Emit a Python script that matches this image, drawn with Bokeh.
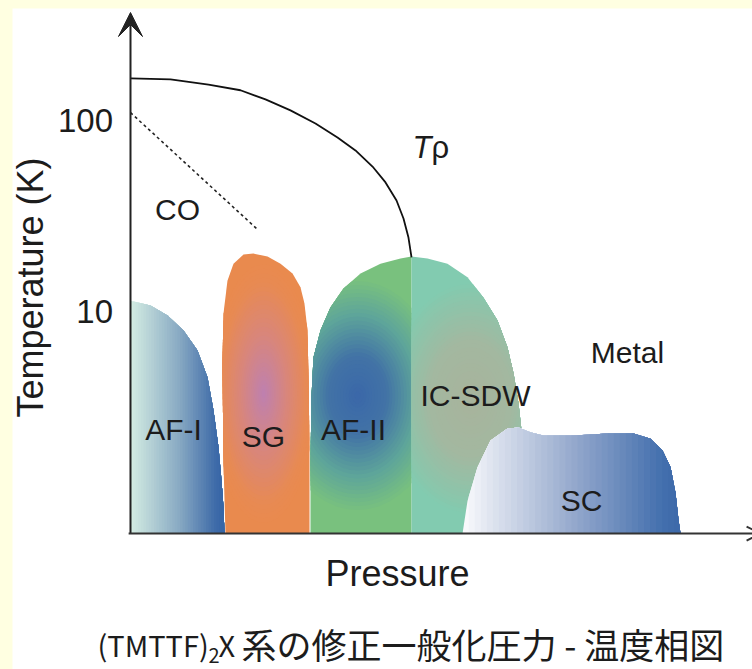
import math
from bokeh.plotting import figure
from bokeh.models import (Range1d, Arrow, VeeHead, OpenHead, Label, GlobalInlineStyleSheet)
from bokeh.core.properties import value
from bokeh.embed import file_html
from bokeh.resources import INLINE

# ---------------- data (pressure: arbitrary units, temperature: K) ----------------
T_FLOOR = 0.688   # temperature at the pressure axis
T_TOP = 367.6     # temperature at the tip of the temperature axis

# T_rho crossover line
trho_p = [0, 0.643, 1.254, 1.768, 2.170, 2.572, 2.974, 3.328, 3.617, 3.891, 4.100, 4.277, 4.389, 4.469, 4.518]
trho_T = [166, 164, 154, 144, 129, 113, 96.4, 81.5, 69.7, 57.4, 47.4, 38.1, 30.7, 24.4, 19.2]

# charge-order (dashed) line
co_p = [0, 2.058]
co_T = [110, 26.6]

# phase boundaries
afi_p = [0, 0, 0.322, 0.595, 0.852, 1.077, 1.238, 1.334, 1.415, 1.463, 1.495, 1.511]
afi_T = [T_FLOOR, 11.4, 10.75, 9.53, 7.95, 6.25, 4.51, 3.03, 1.94, 1.30, 0.94, T_FLOOR]

sg_p = [1.527, 1.495, 1.479, 1.495, 1.559, 1.656, 1.817, 1.977, 2.203, 2.412, 2.605, 2.733, 2.797, 2.846, 2.862, 2.878, 2.878]
sg_T = [T_FLOOR, 1.60, 5.34, 9.76, 14.5, 17.8, 19.9, 20.1, 19.4, 17.8, 15.8, 13.4, 11.0, 7.95, 4.35, 1.94, T_FLOOR]

afii_p = [2.894, 2.894, 2.910, 2.942, 3.055, 3.215, 3.424, 3.698, 4.019, 4.341, 4.518, 4.518]
afii_T = [T_FLOOR, 1.60, 3.55, 5.74, 7.95, 10.5, 13.2, 15.8, 17.8, 18.95, 19.4, T_FLOOR]

icsdw_p = [4.518, 4.518, 4.775, 5.096, 5.418, 5.675, 5.900, 6.061, 6.158, 6.238, 6.286, 6.302]
icsdw_T = [T_FLOOR, 19.4, 18.95, 17.8, 15.1, 11.8, 8.97, 6.48, 4.74, 3.30, 2.38, T_FLOOR]

sc_p = [5.338, 5.418, 5.579, 5.788, 6.061, 6.238, 6.431, 6.640, 7.122, 7.669, 8.087, 8.360, 8.553, 8.682, 8.762, 8.810, 8.842]
sc_T = [T_FLOOR, 1.02, 1.53, 2.11, 2.44, 2.47, 2.33, 2.24, 2.24, 2.30, 2.30, 2.16, 1.87, 1.53, 1.12, 0.81, T_FLOOR]

# phase labels
phase_names = ["AF-I", "SG", "AF-II", "IC-SDW", "SC", "Metal", "CO"]
phase_p = [0.691, 2.138, 3.585, 5.547, 7.251, 7.990, 0.756]
phase_T = [2.41, 2.22, 2.41, 3.63, 1.02, 6.10, 34.2]

# temperature-axis ticks
y_ticks = [10, 100]
y_tick_labels = ["10", "100"]

# ---------------- helpers for gradient fills ----------------
def hex2rgb(h):
    h = h.lstrip("#")
    return [int(h[i:i + 2], 16) for i in (0, 2, 4)]

def ramp(stops, t):
    t = min(max(t, 0.0), 1.0)
    for (t0, c0), (t1, c1) in zip(stops[:-1], stops[1:]):
        if t <= t1:
            f = 0 if t1 == t0 else (t - t0) / (t1 - t0)
            a, b = hex2rgb(c0), hex2rgb(c1)
            return "#%02x%02x%02x" % tuple(int(round(a[k] + f * (b[k] - a[k]))) for k in range(3))
    return stops[-1][1]

def clip_half(poly, a, b, c):
    out = []
    n = len(poly)
    for i in range(n):
        x1, y1 = poly[i]
        x2, y2 = poly[(i + 1) % n]
        d1 = a * x1 + b * y1 + c
        d2 = a * x2 + b * y2 + c
        if d1 >= 0:
            out.append((x1, y1))
        if (d1 >= 0) != (d2 >= 0):
            t = d1 / (d1 - d2)
            out.append((x1 + t * (x2 - x1), y1 + t * (y2 - y1)))
    return out

def to_poly(ps, Ts):
    return [(x, math.log10(t)) for x, t in zip(ps, Ts)]

def add_patch_list(xs, ys, cols, poly, col):
    if len(poly) >= 3:
        xs.append([q[0] for q in poly])
        ys.append([10 ** q[1] for q in poly])
        cols.append(col)

def linear_grad(ps, Ts, x0, x1, stops, n=36):
    poly = to_poly(ps, Ts)
    xs, ys, cols = [], [], []
    add_patch_list(xs, ys, cols, poly, ramp(stops, 0))
    for i in range(1, n):
        xc = x0 + (x1 - x0) * i / n
        add_patch_list(xs, ys, cols, clip_half(poly, 1, 0, -xc), ramp(stops, i / n))
    return xs, ys, cols

def radial_grad(ps, Ts, cx, cy_T, rx, ry, stops, n=30, m=48):
    poly = to_poly(ps, Ts)
    cy = math.log10(cy_T)
    xs, ys, cols = [], [], []
    add_patch_list(xs, ys, cols, poly, ramp(stops, 1))
    for k in range(1, n):
        s = 1 - k / n
        ell = [(cx + s * rx * math.cos(2 * math.pi * j / m), cy + s * ry * math.sin(2 * math.pi * j / m)) for j in range(m)]
        cur = poly
        for j in range(m):
            (x1, y1), (x2, y2) = ell[j], ell[(j + 1) % m]
            cur = clip_half(cur, -(y2 - y1), (x2 - x1), (y2 - y1) * x1 - (x2 - x1) * y1)
            if len(cur) < 3:
                break
        add_patch_list(xs, ys, cols, cur, ramp(stops, s))
    return xs, ys, cols

# ---------------- figure (frame covers the whole canvas) ----------------
p = figure(width=740, height=661, x_range=Range1d(-1.897, 10.0), y_range=Range1d(0.1336, 385.8),
           y_axis_type="log", x_axis_location=None, y_axis_location=None,
           output_backend="svg", toolbar_location=None,
           min_border=0, min_border_left=0, min_border_right=0, min_border_top=0, min_border_bottom=0)
p.stylesheets = [GlobalInlineStyleSheet(css="html,body{background:#FFFFE1;} body{margin:8px 0 0 12px;overflow:hidden;}")]
p.grid.visible = False
p.outline_line_color = None
p.background_fill_color = "white"
p.border_fill_color = "white"

FONT = value("Liberation Sans")
TXT = "#1c1c1c"

# phase regions
for xs, ys, cols in [
    linear_grad(afi_p, afi_T, 0.0, 1.51, [(0, "#d2ebe2"), (0.5, "#89aac3"), (0.9, "#3d6aa8"), (1, "#3566a6")]),
    radial_grad(sg_p, sg_T, 2.14, 3.72, 0.85, 0.70, [(0, "#bd80b2"), (0.45, "#d8867c"), (0.85, "#e88a52"), (1, "#e98a4e")]),
    radial_grad(afii_p, afii_T, 3.65, 3.63, 1.40, 0.62, [(0, "#3a67a9"), (0.35, "#4273a6"), (0.7, "#5ea59a"), (1, "#79c17e")]),
    radial_grad(icsdw_p, icsdw_T, 5.47, 3.5, 1.35, 0.62, [(0, "#a8b39c"), (0.5, "#a3b8a0"), (0.85, "#8cc5aa"), (1, "#82cbb0")]),
    linear_grad(sc_p, sc_T, 5.34, 8.84, [(0, "#f8f9fc"), (0.1, "#e2e7f1"), (0.5, "#94a8cc"), (0.9, "#4470ae"), (1, "#3b67a8")]),
]:
    p.patches(xs=xs, ys=ys, fill_color=cols, line_color=None)

# lines
p.line(trho_p, trho_T, line_color="#111111", line_width=1.8)
p.line(co_p, co_T, line_color="#222222", line_width=1.6, line_dash="3 3")

# phase labels
p.text(x=phase_p, y=phase_T, text=phase_names, text_font=FONT, text_font_size="30px",
       text_color=TXT, text_align="center", text_baseline="middle")

# temperature tick labels
p.text(x=[-0.28] * len(y_ticks), y=y_ticks, text=y_tick_labels, text_font=FONT, text_font_size="33px",
       text_color=TXT, text_align="right", text_baseline="middle")

# T rho label
p.add_layout(Label(x=4.839, y=72.2, text="T", text_font="Liberation Sans", text_font_style="italic",
                   text_font_size="31px", text_color=TXT, text_align="right", text_baseline="middle"))
p.add_layout(Label(x=4.839, y=72.2, text="ρ", text_font="Liberation Sans",
                   text_font_size="31px", text_color=TXT, text_align="left", text_baseline="middle"))

# axes arrows
p.add_layout(Arrow(end=VeeHead(size=24, fill_color="#222222", line_color="#222222"),
                   x_start=0, y_start=T_FLOOR, x_end=0, y_end=T_TOP, line_width=2, line_color="#222222"))
p.add_layout(Arrow(end=OpenHead(size=14, line_width=2, line_color="#333333"),
                   x_start=-0.03, y_start=T_FLOOR, x_end=10.13, y_end=T_FLOOR, line_width=2, line_color="#333333"))

# axis titles
p.add_layout(Label(x=-1.608, y=13.36, text="Temperature (K)", angle=math.pi / 2, text_font="Liberation Sans",
                   text_font_size="36px", text_color=TXT, text_align="center", text_baseline="middle"))
p.add_layout(Label(x=4.293, y=0.425, text="Pressure", text_font="Liberation Sans",
                   text_font_size="36px", text_color=TXT, text_align="center", text_baseline="middle"))

# caption
cap_T = 0.182
p.add_layout(Label(x=-0.531, y=cap_T, text="(TMTTF)", text_font="Noto Sans CJK JP",
                   text_font_size="29px", text_color=TXT, text_align="left", text_baseline="middle"))
p.add_layout(Label(x=1.254, y=0.158, text="2", text_font="Noto Sans CJK JP",
                   text_font_size="20px", text_color=TXT, text_align="left", text_baseline="middle"))
p.add_layout(Label(x=1.415, y=cap_T, text="X", text_font="Noto Sans CJK JP",
                   text_font_size="29px", text_color=TXT, text_align="left", text_baseline="middle"))
p.add_layout(Label(x=1.784, y=cap_T, text="系の修正一般化圧力 - 温度相図", text_font="Noto Sans CJK JP",
                   text_font_size="35px", text_color=TXT, text_align="left", text_baseline="middle"))

open("out.html", "w").write(file_html(p, INLINE))
